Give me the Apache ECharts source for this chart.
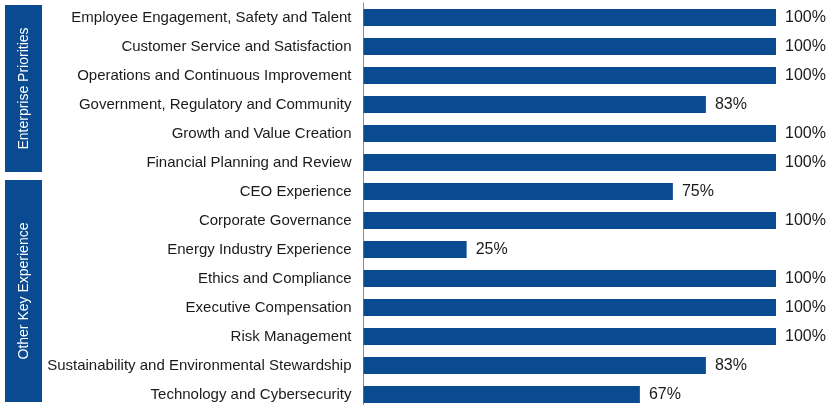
<!DOCTYPE html>
<html>
<head>
<meta charset="utf-8">
<script src="https://cdn.jsdelivr.net/npm/echarts@6/dist/echarts.min.js"></script>
<style>
html,body{margin:0;padding:0;background:#fff;}
#chart{width:840px;height:405px;}
</style>
</head>
<body>
<div id="chart"></div>
<script>
const categories = [
  "Employee Engagement, Safety and Talent",
  "Customer Service and Satisfaction",
  "Operations and Continuous Improvement",
  "Government, Regulatory and Community",
  "Growth and Value Creation",
  "Financial Planning and Review",
  "CEO Experience",
  "Corporate Governance",
  "Energy Industry Experience",
  "Ethics and Compliance",
  "Executive Compensation",
  "Risk Management",
  "Sustainability and Environmental Stewardship",
  "Technology and Cybersecurity"
];
const values = [100, 100, 100, 83, 100, 100, 75, 100, 25, 100, 100, 100, 83, 67];
const groupLabels = ["Enterprise Priorities", "Other Key Experience"];

const BLUE = '#0A4A90';
const chart = echarts.init(document.getElementById('chart'));
chart.setOption({
  animation: false,
  backgroundColor: '#ffffff',
  grid: { left: 363.5, width: 412.5, top: 3, height: 406, containLabel: false, outerBoundsMode: 'none' },
  xAxis: { type: 'value', min: 0, max: 100, show: false },
  yAxis: {
    type: 'category',
    data: categories,
    inverse: true,
    axisLine: { show: true, lineStyle: { color: '#8c8c8c', width: 1 } },
    axisTick: { show: false },
    axisLabel: { color: '#1a1a1a', fontSize: 15, fontFamily: 'Liberation Sans, Arial, sans-serif', margin: 12 }
  },
  series: [{
    type: 'bar',
    data: values,
    barWidth: 17,
    itemStyle: { color: BLUE },
    label: {
      show: true, position: 'right', distance: 9,
      formatter: '{c}%', color: '#1a1a1a', fontSize: 16,
      fontFamily: 'Liberation Sans, Arial, sans-serif'
    }
  }],
  graphic: [
    { type: 'rect', shape: { x: 5, y: 5, width: 37, height: 167 }, style: { fill: BLUE } },
    { type: 'text', x: 24, y: 88.5, rotation: Math.PI / 2,
      style: { text: groupLabels[0], fill: '#ffffff', fontSize: 14, fontFamily: 'Liberation Sans, Arial, sans-serif', align: 'center', verticalAlign: 'middle' } },
    { type: 'rect', shape: { x: 5, y: 180, width: 37, height: 222 }, style: { fill: BLUE } },
    { type: 'text', x: 24, y: 291, rotation: Math.PI / 2,
      style: { text: groupLabels[1], fill: '#ffffff', fontSize: 14, fontFamily: 'Liberation Sans, Arial, sans-serif', align: 'center', verticalAlign: 'middle' } }
  ]
});
</script>
</body>
</html>
